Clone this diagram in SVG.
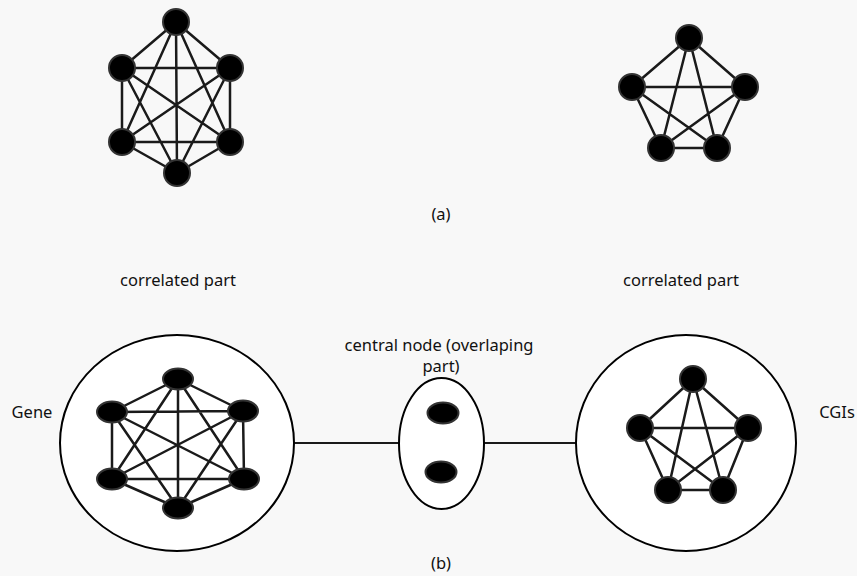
<svg xmlns="http://www.w3.org/2000/svg" width="857" height="576" viewBox="0 0 857 576">
<style>
.bg{fill:#f8f8f8}
.e{stroke:#1a1a1a;stroke-width:2.5;fill:none}
.n{fill:#000;stroke:#333;stroke-width:2}
.c{fill:#fff;stroke:#000;stroke-width:2}
.t{font-family:"Noto Sans","Open Sans",sans-serif;font-size:16.5px;fill:#111;text-anchor:middle}
</style>
<rect class="bg" x="0" y="0" width="857" height="576"/>
<g id="connectors">
<path class="e" d="M176,22L122,68M176,22L230,68M176,22L122,142M176,22L230,142M176,22L177,173M122,68L230,68M122,68L122,142M122,68L230,142M122,68L177,173M230,68L122,142M230,68L230,142M230,68L177,173M122,142L230,142M122,142L177,173M230,142L177,173"/>
<path class="e" d="M689,38L632,87M689,38L745,87M689,38L661,148M689,38L717,148M632,87L745,87M632,87L661,148M632,87L717,148M745,87L661,148M745,87L717,148M661,148L717,148"/>
<path class="e" d="M293,443L399,443M484,443L576,443" style="stroke-width:2"/>
</g>
<g id="graph-a-hex">
<circle class="n" cx="176" cy="22" r="13"/>
<circle class="n" cx="122" cy="68" r="13"/>
<circle class="n" cx="230" cy="68" r="13"/>
<circle class="n" cx="122" cy="142" r="13"/>
<circle class="n" cx="230" cy="142" r="13"/>
<circle class="n" cx="177" cy="173" r="13"/>
</g>
<g id="graph-a-pent">
<circle class="n" cx="689" cy="38" r="13"/>
<circle class="n" cx="632" cy="87" r="13"/>
<circle class="n" cx="745" cy="87" r="13"/>
<circle class="n" cx="661" cy="148" r="13"/>
<circle class="n" cx="717" cy="148" r="13"/>
</g>
<text class="t" x="441" y="220">(a)</text>
<text class="t" x="178" y="286">correlated part</text>
<text class="t" x="681" y="286">correlated part</text>
<g id="gene">
<ellipse class="c" cx="177" cy="443" rx="117" ry="108"/>
<path class="e" d="M178,379L112,412M178,379L243,411M178,379L112,479M178,379L244,479M178,379L178,508M112,412L243,411M112,412L112,479M112,412L244,479M112,412L178,508M243,411L112,479M243,411L244,479M243,411L178,508M112,479L244,479M112,479L178,508M244,479L178,508"/>
<ellipse class="n" cx="178" cy="379" rx="15" ry="10.5"/>
<ellipse class="n" cx="112" cy="412" rx="15" ry="10.5"/>
<ellipse class="n" cx="243" cy="411" rx="15" ry="10.5"/>
<ellipse class="n" cx="112" cy="479" rx="15" ry="10.5"/>
<ellipse class="n" cx="244" cy="479" rx="15" ry="10.5"/>
<ellipse class="n" cx="178" cy="508" rx="15" ry="10.5"/>
</g>
<g id="central">
<ellipse class="c" cx="441.5" cy="443.5" rx="42.5" ry="65.5"/>
<ellipse class="n" cx="443" cy="413" rx="15.5" ry="10.5"/>
<ellipse class="n" cx="441" cy="472" rx="15.5" ry="10.5"/>
</g>
<g id="cgis">
<ellipse class="c" cx="686" cy="443" rx="110" ry="108"/>
<path class="e" d="M693,379L640,428M693,379L748,428M693,379L668,490M693,379L723,490M640,428L748,428M640,428L668,490M640,428L723,490M748,428L668,490M748,428L723,490M668,490L723,490"/>
<circle class="n" cx="693" cy="379" r="13"/>
<circle class="n" cx="640" cy="428" r="13"/>
<circle class="n" cx="748" cy="428" r="13"/>
<circle class="n" cx="668" cy="490" r="13"/>
<circle class="n" cx="723" cy="490" r="13"/>
</g>
<text class="t" x="439" y="351">central node (overlaping</text>
<text class="t" x="441" y="372">part)</text>
<text class="t" x="32" y="418">Gene</text>
<text class="t" x="837" y="418">CGIs</text>
<text class="t" x="441" y="569">(b)</text>
</svg>
